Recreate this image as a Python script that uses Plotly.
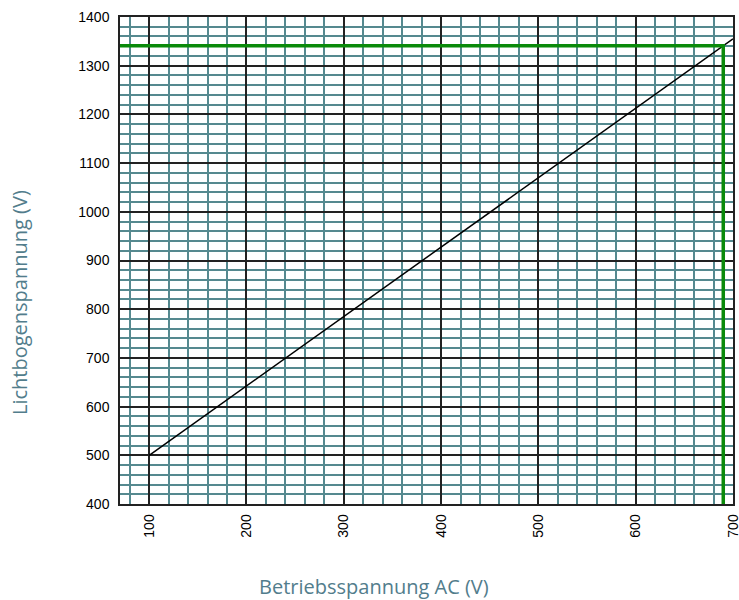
import plotly.graph_objects as go

# Data
line_x = [100, 700]
line_y = [500, 1355]
marker_x = 690
marker_y = 1341
x_ticks = [100, 200, 300, 400, 500, 600, 700]
y_ticks = [400, 500, 600, 700, 800, 900, 1000, 1100, 1200, 1300, 1400]

fig = go.Figure()
fig.add_trace(go.Scatter(x=line_x, y=line_y, mode="lines",
                         line=dict(color="black", width=1.5), showlegend=False))
fig.add_trace(go.Scatter(x=[70, marker_x, marker_x], y=[marker_y, marker_y, 400], mode="lines",
                         line=dict(color="#0a8a0a", width=3.5), showlegend=False))

fig.update_layout(
    width=739, height=600,
    margin=dict(l=120, r=6, t=17, b=96),
    paper_bgcolor="white", plot_bgcolor="white",
    showlegend=False,
    xaxis=dict(range=[70, 700], tickvals=x_ticks, ticktext=[str(v) for v in x_ticks],
               tickangle=-90, tickfont=dict(family="Liberation Sans, Arial", size=14, color="black"),
               showgrid=True, gridcolor="#222222", gridwidth=1.5, automargin=False,
               showline=True, linecolor="#222222", linewidth=1.5, mirror=True,
               zeroline=False, ticks="", ticklabelstandoff=3, ticklabeloverflow="allow",
               minor=dict(dtick=20, tick0=0, showgrid=True, gridcolor="#55898f", gridwidth=1.5)),
    yaxis=dict(range=[400, 1400], tickvals=y_ticks, ticktext=[str(v) for v in y_ticks],
               tickfont=dict(family="Liberation Sans, Arial", size=14, color="black"),
               showgrid=True, gridcolor="#222222", gridwidth=1.5, automargin=False,
               showline=True, linecolor="#222222", linewidth=1.5, mirror=True,
               zeroline=False, ticks="", ticklabelstandoff=6, ticklabeloverflow="allow",
               minor=dict(dtick=20, tick0=0, showgrid=True, gridcolor="#55898f", gridwidth=1.5)),
)

fig.add_annotation(text="Betriebsspannung AC (V)", xref="paper", yref="paper",
                   x=(373.5 - 120) / 613, y=-(586 - 504) / 487, showarrow=False,
                   xanchor="center", yanchor="middle",
                   font=dict(family="Open Sans", size=20, color="#527d8c"))
fig.add_annotation(text="Lichtbogenspannung (V)", xref="paper", yref="paper",
                   x=-(120 - 20) / 613, y=(504 - 303) / 487, showarrow=False, textangle=-90,
                   xanchor="center", yanchor="middle",
                   font=dict(family="Open Sans", size=20, color="#527d8c"))

fig.write_html("out.html", config={"displayModeBar": False},
               post_script="document.body.style.margin='0';document.body.style.padding='0';")
